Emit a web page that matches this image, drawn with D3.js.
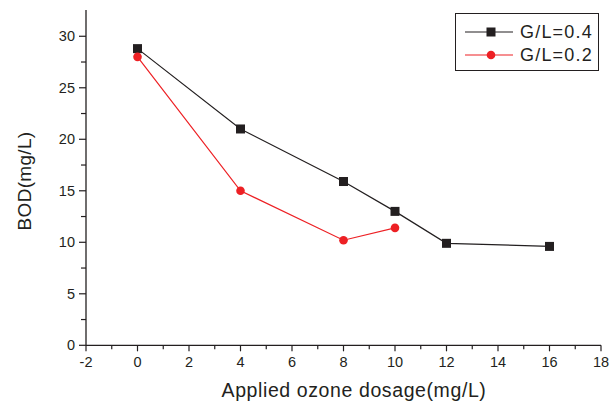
<!DOCTYPE html>
<html><head><meta charset="utf-8">
<script src="https://cdn.jsdelivr.net/npm/d3@7"></script>
<style>body{margin:0;background:#fff;}svg{display:block;font-family:"Liberation Sans",Arial,sans-serif;}</style>
</head><body>
<svg id="c" width="610" height="405"></svg>
<script>
const dosage04 = [0, 4, 8, 10, 12, 16];
const bod04 = [28.8, 21.0, 15.9, 13.0, 9.9, 9.6];
const dosage02 = [0, 4, 8, 10];
const bod02 = [28.0, 15.0, 10.2, 11.4];
const seriesNames = ["G/L=0.4", "G/L=0.2"];
const xTicks = [-2, 0, 2, 4, 6, 8, 10, 12, 14, 16, 18];
const yTicks = [0, 5, 10, 15, 20, 25, 30];
const xTitle = "Applied ozone dosage(mg/L)";
const yTitle = "BOD(mg/L)";

const svg = d3.select("#c");
const x = d3.scaleLinear().domain([-2, 18]).range([86, 601]);
const y = d3.scaleLinear().domain([0, 32.55]).range([345.3, 10]);

const ink = "#231f20";
const xMinor = d3.range(-1, 18, 2);
const yMinor = d3.range(2.5, 32.5, 5);

const gx = svg.append("g").attr("transform", "translate(0,345.3)");
gx.append("line").attr("x1", x(-2)).attr("x2", x(18)).attr("stroke", ink).attr("stroke-width", 1.3);
gx.selectAll(".mj").data(xTicks).join("line").attr("x1", d => x(d)).attr("x2", d => x(d)).attr("y1", 0).attr("y2", 6).attr("stroke", ink).attr("stroke-width", 1.2);
gx.selectAll(".mn").data(xMinor).join("line").attr("x1", d => x(d)).attr("x2", d => x(d)).attr("y1", 0).attr("y2", 4).attr("stroke", ink).attr("stroke-width", 1.2);
gx.selectAll("text").data(xTicks).join("text").attr("x", d => x(d)).attr("y", 21.5).attr("text-anchor", "middle").attr("font-size", 14.5).attr("fill", ink).text(d => d);

const gy = svg.append("g").attr("transform", "translate(86,0)");
gy.append("line").attr("y1", y(0)).attr("y2", 10).attr("stroke", ink).attr("stroke-width", 1.3);
gy.selectAll(".mj").data(yTicks).join("line").attr("y1", d => y(d)).attr("y2", d => y(d)).attr("x1", 0).attr("x2", -7).attr("stroke", ink).attr("stroke-width", 1.2);
gy.selectAll(".mn").data(yMinor).join("line").attr("y1", d => y(d)).attr("y2", d => y(d)).attr("x1", 0).attr("x2", -5).attr("stroke", ink).attr("stroke-width", 1.2);
gy.selectAll("text").data(yTicks).join("text").attr("x", -11).attr("y", d => y(d) + 5).attr("text-anchor", "end").attr("font-size", 14.5).attr("fill", ink).text(d => d);

svg.append("text").attr("x", 354).attr("y", 397).attr("text-anchor", "middle").attr("font-size", 19.5).attr("letter-spacing", 0.6).attr("fill", ink).text(xTitle);
svg.append("text").attr("transform", "translate(31,181) rotate(-90)").attr("text-anchor", "middle").attr("font-size", 19).attr("letter-spacing", 0.3).attr("fill", ink).text(yTitle);

const line = d3.line().x(d => x(d[0])).y(d => y(d[1]));
const d04 = dosage04.map((d, i) => [d, bod04[i]]);
const d02 = dosage02.map((d, i) => [d, bod02[i]]);
const red = "#ed2024";

svg.append("path").datum(d04).attr("d", line).attr("fill", "none").attr("stroke", ink).attr("stroke-width", 1.2);
svg.append("path").datum(d02).attr("d", line).attr("fill", "none").attr("stroke", red).attr("stroke-width", 1.2);
svg.selectAll(".sq").data(d04).join("rect").attr("x", d => x(d[0]) - 4.5).attr("y", d => y(d[1]) - 4.5).attr("width", 9).attr("height", 9).attr("fill", ink);
svg.selectAll(".ci").data(d02).join("circle").attr("cx", d => x(d[0])).attr("cy", d => y(d[1])).attr("r", 4.3).attr("fill", red);

const lg = svg.append("g");
lg.append("rect").attr("x", 455.5).attr("y", 13.5).attr("width", 143).attr("height", 57).attr("fill", "#fff").attr("stroke", ink).attr("stroke-width", 1);
const ly = [32, 55];
lg.append("line").attr("x1", 465).attr("x2", 513).attr("y1", ly[0]).attr("y2", ly[0]).attr("stroke", ink).attr("stroke-width", 1.2);
lg.append("rect").attr("x", 491 - 4.5).attr("y", ly[0] - 4.5).attr("width", 9).attr("height", 9).attr("fill", ink);
lg.append("line").attr("x1", 465).attr("x2", 513).attr("y1", ly[1]).attr("y2", ly[1]).attr("stroke", red).attr("stroke-width", 1.2);
lg.append("circle").attr("cx", 491).attr("cy", ly[1]).attr("r", 4.3).attr("fill", red);
lg.selectAll("text").data(seriesNames).join("text").attr("x", 520).attr("y", (d, i) => ly[i] + 5.8).attr("font-size", 18).attr("letter-spacing", 1.2).attr("fill", ink).text(d => d);
</script>
</body></html>
